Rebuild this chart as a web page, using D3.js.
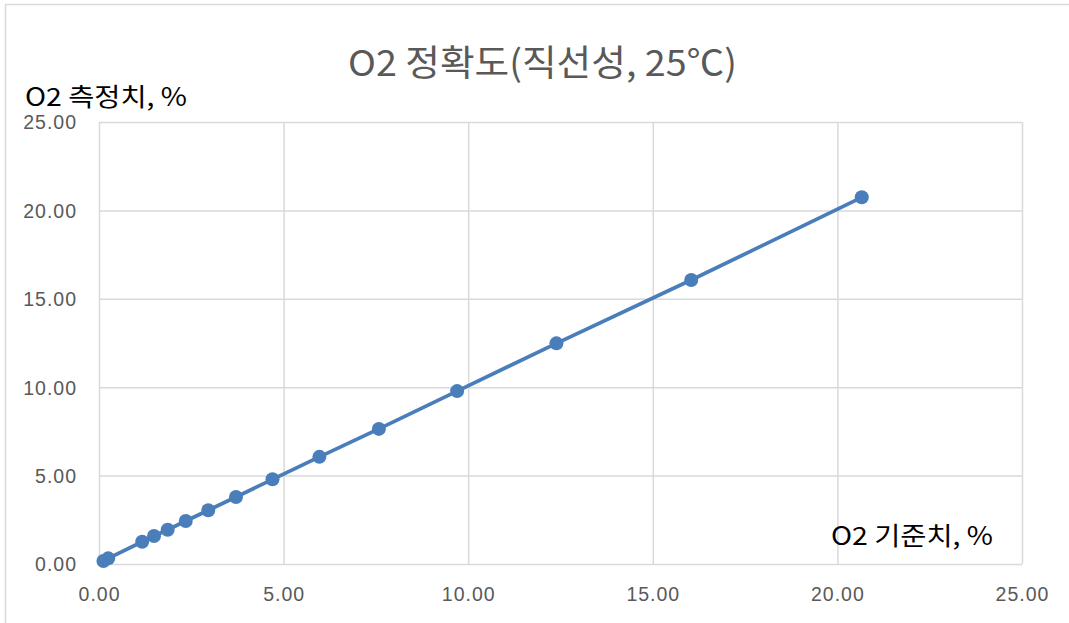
<!DOCTYPE html>
<html><head><meta charset="utf-8">
<script src="https://cdn.jsdelivr.net/npm/d3@7"></script>
<style>body{margin:0;background:#fff;}svg{display:block;font-family:"Noto Sans CJK KR","Noto Sans",sans-serif;}</style>
</head><body>
<svg id="c" width="1069" height="623"></svg>
<script>
const title = "O2 정확도(직선성, 25℃)";
const xTitle = "O2 기준치, %";
const yTitle = "O2 측정치, %";
const refValues = [0.12, 0.25, 1.17, 1.49, 1.86, 2.35, 2.96, 3.71, 4.70, 5.97, 7.58, 9.70, 12.39, 16.04, 20.66];
const measValues = [0.17, 0.32, 1.26, 1.58, 1.94, 2.43, 3.04, 3.79, 4.79, 6.06, 7.64, 9.78, 12.48, 16.06, 20.74];
const xTicks = [0, 5, 10, 15, 20, 25];
const yTicks = [0, 5, 10, 15, 20, 25];

const svg = d3.select("#c");
const L = 99, R = 1022, T = 122, B = 564;
const x = d3.scaleLinear().domain([0, 25]).range([L, R]);
const y = d3.scaleLinear().domain([0, 25]).range([B, T]);

// chart border
svg.append("rect").attr("x", 5.5).attr("y", 4.5).attr("width", 1080).attr("height", 640)
  .attr("fill", "#fff").attr("stroke", "#d9d9d9").attr("stroke-width", 1.5);

// gridlines
const gx = svg.append("g").attr("transform", `translate(0,${B})`)
  .call(d3.axisBottom(x).tickValues(xTicks).tickSize(-(B - T)).tickFormat(d => d.toFixed(2)));
gx.select(".domain").remove();
gx.selectAll("line").attr("stroke", "#d9d9d9").attr("stroke-width", 1.5);
gx.selectAll("text").attr("fill", "#595959").attr("font-size", 19.5).attr("letter-spacing", 1)
  .attr("dy", 0).attr("y", 37);

const gy = svg.append("g").attr("transform", `translate(${L},0)`)
  .call(d3.axisLeft(y).tickValues(yTicks).tickSize(-(R - L)).tickFormat(d => d.toFixed(2)));
gy.select(".domain").remove();
gy.selectAll("line").attr("stroke", "#d9d9d9").attr("stroke-width", 1.5);
gy.selectAll("text").attr("fill", "#595959").attr("font-size", 19.5).attr("letter-spacing", 1)
  .attr("x", -22).attr("dy", "0.35em");

// series
const data = refValues.map((v, i) => [v, measValues[i]]);
svg.append("path").datum(data)
  .attr("fill", "none").attr("stroke", "#4a7ebb").attr("stroke-width", 3.75)
  .attr("d", d3.line().x(d => x(d[0])).y(d => y(d[1])));
svg.append("g").selectAll("circle").data(data).join("circle")
  .attr("cx", d => x(d[0])).attr("cy", d => y(d[1])).attr("r", 7)
  .attr("fill", "#4a7ebb");

// titles
svg.append("text").attr("x", 348).attr("y", 76)
  .attr("font-size", 36).attr("fill", "#595959")
  .attr("textLength", 389).attr("lengthAdjust", "spacingAndGlyphs").text(title);
svg.append("text").attr("x", 25).attr("y", 106)
  .attr("font-size", 25).attr("fill", "#000")
  .attr("textLength", 162).attr("lengthAdjust", "spacingAndGlyphs").text(yTitle);
svg.append("text").attr("x", 831).attr("y", 545)
  .attr("font-size", 25).attr("fill", "#000")
  .attr("textLength", 162).attr("lengthAdjust", "spacingAndGlyphs").text(xTitle);
</script>
</body></html>
